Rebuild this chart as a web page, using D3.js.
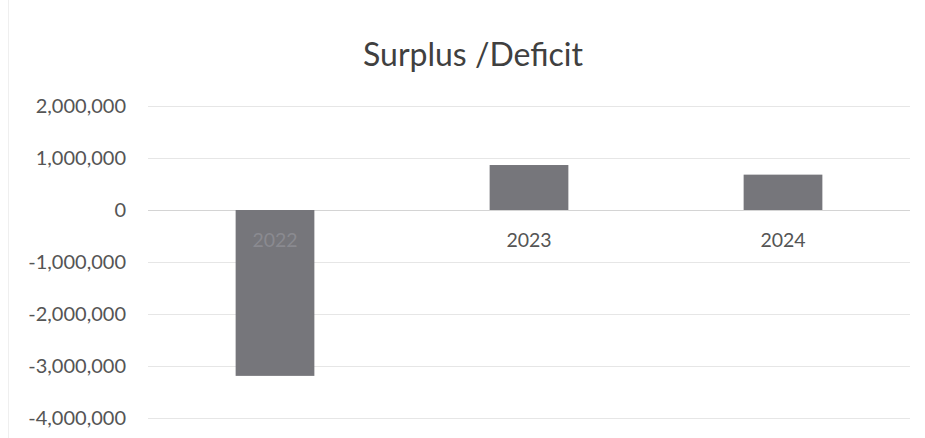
<!DOCTYPE html>
<html>
<head>
<meta charset="utf-8">
<script src="https://cdn.jsdelivr.net/npm/d3@7"></script>
<style>
  body { margin: 0; background: #fff; }
  svg { display: block; font-family: Lato, "Open Sans", sans-serif; }
</style>
</head>
<body>
<div id="chart"></div>
<script>
// Data
const years = ['2022', '2023', '2024'];
const surplus = [-3190000, 865000, 680000];
const yTicks = [2000000, 1000000, 0, -1000000, -2000000, -3000000, -4000000];

const width = 925, height = 438;
const margin = {top: 106, right: 15, bottom: 20, left: 148};

const svg = d3.select('#chart')
  .append('svg')
  .attr('width', width)
  .attr('height', height);

// faint chart border on the left (scan edge)
svg.append('line')
  .attr('x1', 8.5).attr('x2', 8.5)
  .attr('y1', 0).attr('y2', height)
  .attr('stroke', '#efefef');

// Title
svg.append('text')
  .attr('x', 473)
  .attr('y', 66)
  .attr('text-anchor', 'middle')
  .attr('font-size', 32)
  .attr('fill', '#404040')
  .text('Surplus /Deficit');

const x = d3.scaleBand()
  .domain(years)
  .range([margin.left, width - margin.right])
  .paddingInner(0.69)
  .paddingOuter(0.345);

const y = d3.scaleLinear()
  .domain([-4000000, 2000000])
  .range([418, margin.top]);

// plain hyphen for negatives, like the original
const fmt = d => d3.format(',')(d).replace('\u2212', '-');

// Gridlines
svg.append('g')
  .selectAll('line')
  .data(yTicks)
  .enter().append('line')
  .attr('x1', margin.left)
  .attr('x2', width - margin.right)
  .attr('y1', d => y(d) + 0.5)
  .attr('y2', d => y(d) + 0.5)
  .attr('stroke', d => d === 0 ? '#d4d4d4' : '#e6e6e6')
  .attr('stroke-width', 1);

// Y tick labels
svg.append('g')
  .selectAll('text')
  .data(yTicks)
  .enter().append('text')
  .attr('x', 126)
  .attr('y', d => y(d))
  .attr('dy', '0.35em')
  .attr('text-anchor', 'end')
  .attr('font-size', 20)
  .attr('fill', '#555555')
  .text(d => fmt(d));

// Bars
svg.append('g')
  .selectAll('rect')
  .data(years)
  .enter().append('rect')
  .attr('x', (d) => x(d))
  .attr('width', x.bandwidth())
  .attr('y', (d, i) => y(Math.max(0, surplus[i])))
  .attr('height', (d, i) => Math.abs(y(surplus[i]) - y(0)))
  .attr('fill', '#76767b');

// Category labels sit just under the zero line
svg.append('g')
  .selectAll('text')
  .data(years)
  .enter().append('text')
  .attr('x', d => x(d) + x.bandwidth() / 2)
  .attr('y', y(0) + 37)
  .attr('text-anchor', 'middle')
  .attr('font-size', 19.5)
  .attr('fill', (d, i) => surplus[i] < 0 ? '#8a8a90' : '#555555')
  .text(d => d);
</script>
</body>
</html>
